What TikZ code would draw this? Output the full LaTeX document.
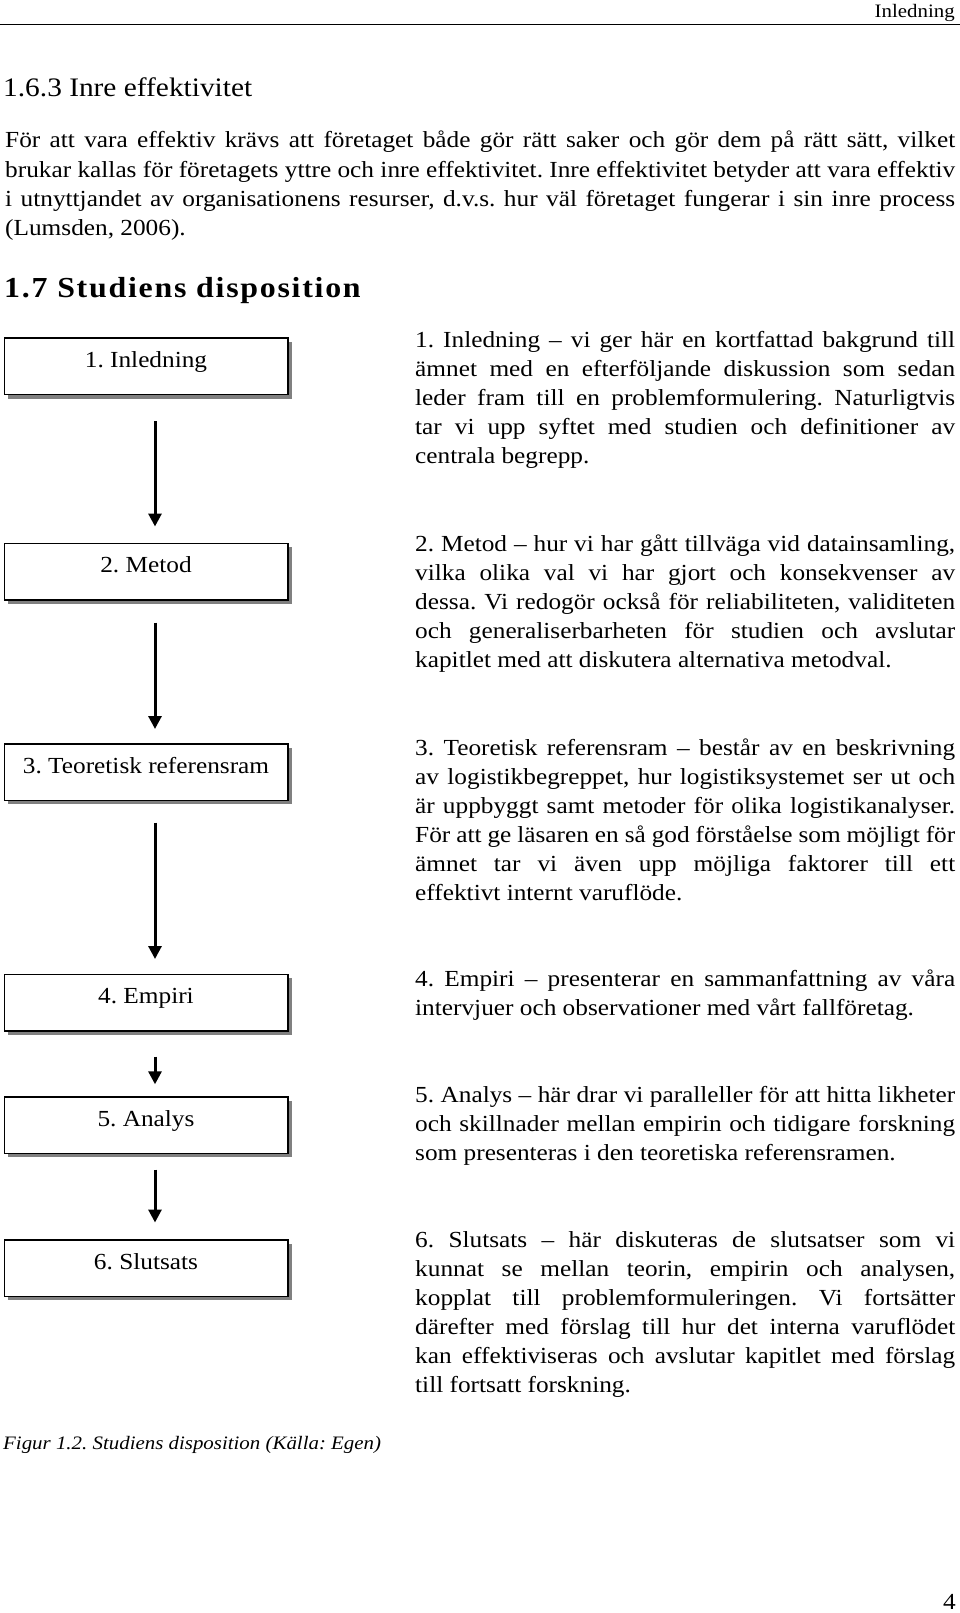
\documentclass[tikz,border=0pt]{standalone}
\usepackage{fontspec}
\setmainfont{Liberation Serif}[FakeStretch=1.1]
\newfontfamily\headfont{Liberation Serif}[FakeStretch=1.1,LetterSpace=6]
\usetikzlibrary{arrows.meta,shadows}
\hyphenpenalty=10000
\tolerance=9999
\frenchspacing

\begin{document}
\begin{tikzpicture}[x=1pt,y=-1pt,
  chapbox/.style={draw,line width=1.5pt,fill=white,minimum width=283.5pt,minimum height=56.5pt,
    inner sep=0pt,anchor=north west,text height=8pt,text depth=6pt,
    font=\fontsize{23}{29.1}\selectfont,
    drop shadow={shadow xshift=4pt,shadow yshift=-4pt,fill=black!50,opacity=1}},
  desc/.style={anchor=base west,inner sep=0pt,text width=540pt,align=justify,
    font=\fontsize{23}{29.1}\selectfont},
  plain/.style={inner sep=0pt,font=\fontsize{23}{29.1}\selectfont},
  flow/.style={line width=3pt,-{Triangle[length=13pt,width=13pt]}}]
\fill[white] (0,0) rectangle (960,1613);
\useasboundingbox (0,0) rectangle (960,1613);

% page head
\node[plain,anchor=base east,font=\fontsize{19}{22}\selectfont] (hdr) at (955,17.5) {Inledning};
\draw[line width=1.5pt] (0,24.5) -- (960,24.5);

\node[plain,anchor=base west,font=\fontsize{26.7}{30}\selectfont] (sec163) at (3,97) {1.6.3 Inre effektivitet};
\node[desc,text width=950pt] (intro) at (5,148) {För att vara effektiv krävs att företaget både gör rätt saker och gör dem på rätt sätt, vilket\linebreak
brukar kallas för företagets yttre och inre effektivitet. Inre effektivitet betyder att vara effektiv\linebreak
i utnyttjandet av organisationens resurser, d.v.s. hur väl företaget fungerar i sin inre process\linebreak
(Lumsden, 2006).};
\node[plain,anchor=base west,font=\headfont\bfseries\fontsize{29}{34}\selectfont] (sec17) at (4,297) {1.7 Studiens disposition};

% chapter boxes
\node[chapbox] (inl) at (3.5,337.3) {1. Inledning};
\node[chapbox] (met) at (3.5,542.5) {2. Metod};
\node[chapbox] (teo) at (3.5,743) {3. Teoretisk referensram};
\node[chapbox] (emp) at (3.5,973.5) {4. Empiri};
\node[chapbox] (ana) at (3.5,1096) {5. Analys};
\node[chapbox] (slu) at (3.5,1239) {6. Slutsats};

\draw[flow,shorten <=26pt,shorten >=16pt] ([xshift=9pt]inl.south) -- ([xshift=9pt]met.north);
\draw[flow,shorten <=22pt,shorten >=14pt] ([xshift=9pt]met.south) -- ([xshift=9pt]teo.north);
\draw[flow,shorten <=21.5pt,shorten >=14.5pt] ([xshift=9pt]teo.south) -- ([xshift=9pt]emp.north);
\draw[flow,shorten <=25pt,shorten >=11.7pt] ([xshift=9pt]emp.south) -- ([xshift=9pt]ana.north);
\draw[flow,shorten <=15.5pt,shorten >=16.5pt] ([xshift=9pt]ana.south) -- ([xshift=9pt]slu.north);

% descriptions
\node[desc] (dinl) at (415,347) {1. Inledning – vi ger här en kortfattad bakgrund till\linebreak
ämnet med en efterföljande diskussion som sedan\linebreak
leder fram till en problemformulering. Naturligtvis\linebreak
tar vi upp syftet med studien och definitioner av\linebreak
centrala begrepp.};
\node[desc] (dmet) at (415,551) {2. Metod – hur vi har gått tillväga vid datainsamling,\linebreak
vilka olika val vi har gjort och konsekvenser av\linebreak
dessa. Vi redogör också för reliabiliteten, validiteten\linebreak
och generaliserbarheten för studien och avslutar\linebreak
kapitlet med att diskutera alternativa metodval.};
\node[desc] (dteo) at (415,755) {3. Teoretisk referensram – består av en beskrivning\linebreak
av logistikbegreppet, hur logistiksystemet ser ut och\linebreak
är uppbyggt samt metoder för olika logistikanalyser.\linebreak
För att ge läsaren en så god förståelse som möjligt för\linebreak
ämnet tar vi även upp möjliga faktorer till ett\linebreak
effektivt internt varuflöde.};
\node[desc] (demp) at (415,986) {4. Empiri – presenterar en sammanfattning av våra\linebreak
intervjuer och observationer med vårt fallföretag.};
\node[desc] (dana) at (415,1102) {5. Analys – här drar vi paralleller för att hitta likheter\linebreak
och skillnader mellan empirin och tidigare forskning\linebreak
som presenteras i den teoretiska referensramen.};
\node[desc] (dslu) at (415,1247) {6. Slutsats – här diskuteras de slutsatser som vi\linebreak
kunnat se mellan teorin, empirin och analysen,\linebreak
kopplat till problemformuleringen. Vi fortsätter\linebreak
därefter med förslag till hur det interna varuflödet\linebreak
kan effektiviseras och avslutar kapitlet med förslag\linebreak
till fortsatt forskning.};

\node[plain,anchor=base west,font=\itshape\fontsize{19}{22}\selectfont] (cap) at (3,1449) {Figur 1.2. Studiens disposition (Källa: Egen)};
\node[plain,anchor=base east] (pno) at (956,1609) {4};
\end{tikzpicture}
\end{document}
